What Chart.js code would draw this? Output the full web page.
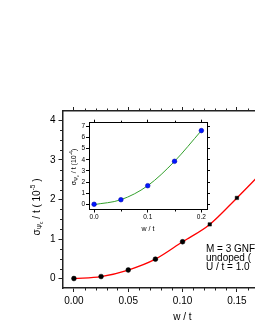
<!DOCTYPE html>
<html><head><meta charset="utf-8">
<script src="https://cdn.jsdelivr.net/npm/chart.js@4/dist/chart.umd.min.js"></script>
<style>
html,body{margin:0;padding:0;background:#fff;overflow:hidden;width:255px;height:330px;}
#wrap{position:relative;width:255px;height:330px;overflow:hidden;}
#main{position:absolute;left:0;top:0;}
#inset{position:absolute;left:60px;top:115px;}
</style></head><body>
<div id="wrap">
<canvas id="main" width="320" height="330"></canvas>
<canvas id="inset" width="155" height="125"></canvas>
</div>
<script>
// ---- data ----
const mainW = [0, 0.025, 0.05, 0.075, 0.1, 0.125, 0.15];
const mainSigma = [0, 0.05, 0.215, 0.49, 0.93, 1.37, 2.04];
const mainFitW = [0, 0.025, 0.05, 0.075, 0.1, 0.125, 0.15, 0.17];
const mainFitSigma = [0, 0.05, 0.215, 0.49, 0.93, 1.37, 2.04, 2.6];
const insetW = [0, 0.05, 0.1, 0.15, 0.2];
const insetSigma = [0, 0.41, 1.67, 3.86, 6.62];
const insetFitW = [0, 0.05, 0.1, 0.15, 0.2];
const insetFitSigma = [-0.03, 0.41, 1.67, 3.86, 6.62];
const mainXTicks = [0, 0.05, 0.1, 0.15, 0.2];
const mainYTicks = [0, 1, 2, 3, 4];
const insetXTicks = [0, 0.1, 0.2];
const insetYTicks = [0, 1, 2, 3, 4, 5, 6, 7];
const annotationLines = ['M = 3 GNF', 'undoped (', 'U / t = 1.0'];

const FONT = '"Liberation Sans", Arial, sans-serif';
Chart.defaults.font.family = FONT;
Chart.defaults.color = '#000';

function range(a, b, step, skipEvery) {
  const out = [];
  for (let i = Math.round(a / step); i * step <= b + 1e-9; i++) {
    if (skipEvery && i % skipEvery === 0) continue;
    out.push(+(i * step).toFixed(4));
  }
  return out;
}

const minorTicks = {
  id: 'minorTicks',
  afterDraw(chart, args, opts) {
    if (!opts || !opts.scales) return;
    const ctx = chart.ctx;
    ctx.save();
    ctx.strokeStyle = opts.color || '#000';
    ctx.lineWidth = 1;
    const len = opts.len || 2;
    for (const id in opts.scales) {
      const s = chart.scales[id];
      if (!s) continue;
      opts.scales[id].forEach(v => {
        if (v <= s.min || v >= s.max) return;
        const p = Math.round(s.getPixelForValue(v)) + 0.5;
        ctx.beginPath();
        if (s.position === 'bottom') { ctx.moveTo(p, s.top); ctx.lineTo(p, s.top + len); }
        else if (s.position === 'top') { ctx.moveTo(p, s.bottom); ctx.lineTo(p, s.bottom - len); }
        else if (s.position === 'left') { ctx.moveTo(s.right, p); ctx.lineTo(s.right - len, p); }
        else { ctx.moveTo(s.left, p); ctx.lineTo(s.left + len, p); }
        ctx.stroke();
      });
    }
    ctx.restore();
  }
};

function drawRich(ctx, parts, cx, cy, rotate) {
  ctx.save();
  ctx.translate(cx, cy);
  if (rotate) ctx.rotate(-Math.PI / 2);
  let total = 0;
  parts.forEach(p => { ctx.font = p.size + 'px ' + FONT; p.w = ctx.measureText(p.t).width; total += p.w; });
  let x = -total / 2;
  ctx.textBaseline = 'middle';
  ctx.textAlign = 'left';
  ctx.fillStyle = '#000';
  parts.forEach(p => { ctx.font = p.size + 'px ' + FONT; ctx.fillText(p.t, x, p.dy || 0); x += p.w; });
  ctx.restore();
}

const richText = {
  id: 'richText',
  afterDraw(chart, args, opts) {
    if (!opts || !opts.items) return;
    const ctx = chart.ctx;
    opts.items.forEach(it => {
      if (it.parts) {
        drawRich(ctx, it.parts, it.x, it.y, it.rotate);
      } else if (it.lines) {
        ctx.save();
        ctx.font = it.size + 'px ' + FONT;
        ctx.fillStyle = '#000';
        ctx.textBaseline = 'middle';
        ctx.textAlign = 'left';
        it.lines.forEach((l, i) => ctx.fillText(l, it.x, it.y + i * it.lh));
        ctx.restore();
      }
    });
  }
};

function axis(common, extra) { return Object.assign({}, common, extra); }

// ---------- main chart ----------
const mainFrame = { color: '#222', width: 1.5 };
const mainGrid = { display: true, drawOnChartArea: false, drawTicks: true, tickLength: 4, tickColor: '#222', tickWidth: 1 };
const mainX = {
  type: 'linear', min: -0.0105, max: 0.21,
  afterBuildTicks: s => { s.ticks = mainXTicks.map(v => ({ value: v })); },
  grid: mainGrid, border: Object.assign({ display: true }, mainFrame)
};

new Chart(document.getElementById('main'), {
  type: 'scatter',
  data: {
    datasets: [
      {
        data: mainW.map((w, i) => ({ x: w, y: mainSigma[i] })),
        pointStyle: ['circle', 'circle', 'circle', 'circle', 'circle', 'rect', 'rect'],
        pointRadius: 2.4, backgroundColor: '#000', borderColor: '#000', borderWidth: 0.5,
        showLine: false, order: 0
      },
      {
        data: mainFitW.map((w, i) => ({ x: w, y: mainFitSigma[i] })),
        showLine: true, borderColor: '#ff0000', borderWidth: 1.3, pointRadius: 0,
        cubicInterpolationMode: 'monotone', fill: false, order: 1
      }
    ]
  },
  options: {
    responsive: false, animation: false, devicePixelRatio: 1,
    layout: { padding: { left: 0, top: 0, right: 17.9, bottom: 0 } },
    plugins: {
      legend: { display: false }, tooltip: { enabled: false },
      minorTicks: {
        color: '#222', len: 2.5,
        scales: { x: range(0, 0.21, 0.01, 5), x2: range(0, 0.21, 0.01, 5), y: range(0, 4.24, 0.25, 4) }
      },
      richText: {
        items: [
          { rotate: true, x: 37, y: 207, parts: [
            { t: 'σ', size: 10 },
            { t: 'Ψ', size: 6.5, dy: 3 },
            { t: 'c', size: 5, dy: 5 },
            { t: ' / t ( 10', size: 10 },
            { t: '-5', size: 6.5, dy: -4 },
            { t: ' )', size: 10 }
          ] },
          { x: 206, y: 249, size: 10, lh: 9.2, lines: annotationLines }
        ]
      }
    },
    scales: {
      x: axis(mainX, {
        position: 'bottom',
        ticks: { callback: v => Number(v).toFixed(2), font: { size: 10 }, color: '#000', padding: 3, maxRotation: 0, autoSkip: false },
        title: { display: true, text: 'w / t', font: { size: 10 }, color: '#000', padding: { top: 0, bottom: 6.5 } },
        afterFit: s => { s.height = 42; }
      }),
      x2: axis(mainX, {
        position: 'top',
        ticks: { display: false },
        afterFit: s => { s.height = 111; }
      }),
      y: {
        type: 'linear', position: 'left', min: -0.24, max: 4.24,
        afterBuildTicks: s => { s.ticks = mainYTicks.map(v => ({ value: v })); },
        ticks: { callback: v => String(v), font: { size: 10 }, color: '#000', padding: 3 },
        grid: mainGrid, border: Object.assign({ display: true }, mainFrame),
        afterFit: s => { s.width = 62.5; }
      }
    }
  },
  plugins: [minorTicks, richText]
});

// ---------- inset chart ----------
const insetGrid = { display: true, drawOnChartArea: false, drawTicks: true, tickLength: 3, tickColor: '#000', tickWidth: 1 };
const insetBorder = { display: true, color: '#000', width: 1 };
const inX = {
  type: 'linear', min: -0.0095, max: 0.2105,
  afterBuildTicks: s => { s.ticks = insetXTicks.map(v => ({ value: v })); },
  grid: insetGrid, border: insetBorder
};
const inY = {
  type: 'linear', min: -0.47, max: 7.33,
  afterBuildTicks: s => { s.ticks = insetYTicks.map(v => ({ value: v })); },
  grid: insetGrid, border: insetBorder
};

new Chart(document.getElementById('inset'), {
  type: 'scatter',
  data: {
    datasets: [
      {
        data: insetW.map((w, i) => ({ x: w, y: insetSigma[i] })),
        pointStyle: 'circle', pointRadius: 2.3, backgroundColor: '#0018ff', borderColor: '#0000b0', borderWidth: 0.6,
        showLine: false, order: 0
      },
      {
        data: insetFitW.map((w, i) => ({ x: w, y: insetFitSigma[i] })),
        showLine: true, borderColor: '#33a02c', borderWidth: 1, pointRadius: 0,
        cubicInterpolationMode: 'monotone', fill: false, order: 1
      }
    ]
  },
  options: {
    responsive: false, animation: false, devicePixelRatio: 1,
    layout: { padding: 0 },
    plugins: {
      legend: { display: false }, tooltip: { enabled: false },
      minorTicks: { color: '#000', len: 2, scales: { x: [0.05, 0.15], x2: [0.05, 0.15] } },
      richText: {
        items: [
          { rotate: true, x: 14.5, y: 52, parts: [
            { t: 'σ', size: 7 },
            { t: 'Ψ', size: 4.8, dy: 2 },
            { t: 'c', size: 3.8, dy: 3.5 },
            { t: ' / t (10', size: 7 },
            { t: '-4', size: 4.8, dy: -3 },
            { t: ')', size: 7 }
          ] }
        ]
      }
    },
    scales: {
      x: axis(inX, {
        position: 'bottom',
        ticks: { callback: v => Number(v).toFixed(1), font: { size: 6.5 }, color: '#000', padding: 1, maxRotation: 0, autoSkip: false },
        title: { display: true, text: 'w / t', font: { size: 7 }, color: '#000', padding: { top: 0, bottom: 6.8 } },
        afterFit: s => { s.height = 30.5; }
      }),
      x2: axis(inX, { position: 'top', ticks: { display: false }, afterFit: s => { s.height = 7.7; } }),
      y: axis(inY, {
        position: 'left',
        ticks: { callback: v => String(v), font: { size: 6.5 }, color: '#000', padding: 1 },
        afterFit: s => { s.width = 29; }
      }),
      y2: axis(inY, { position: 'right', ticks: { display: false }, afterFit: s => { s.width = 8; } })
    }
  },
  plugins: [minorTicks, richText]
});
</script>
</body></html>
